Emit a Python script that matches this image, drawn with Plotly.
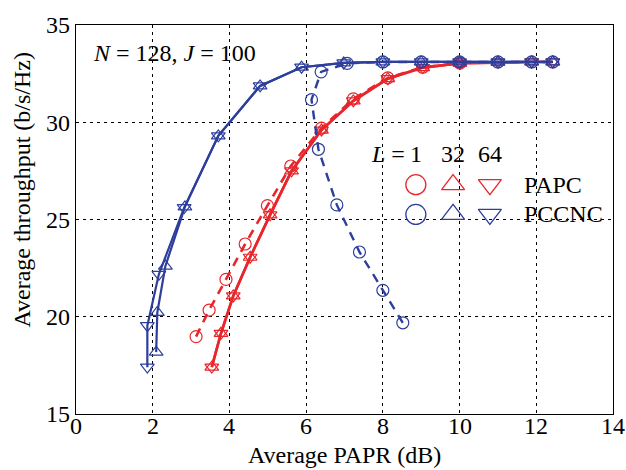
import plotly.graph_objects as go

RED = "#E8262B"
BLUE = "#2D3E9C"

# PCCNC (blue)
pccnc_L64_x = [1.86, 1.86, 2.16, 2.82, 3.71, 4.80, 5.88, 6.98, 8.0, 9.0, 10.0, 11.0, 11.88, 12.43]
pccnc_L64_y = [17.41, 19.54, 22.18, 25.61, 29.30, 31.87, 32.83, 33.05, 33.10, 33.10, 33.10, 33.10, 33.10, 33.10]
pccnc_L32_x = [2.09, 2.12, 2.33, 2.84, 3.71, 4.80, 5.88, 6.98, 8.0, 9.0, 10.0, 11.0, 11.88, 12.43]
pccnc_L32_y = [18.18, 20.22, 22.60, 25.65, 29.30, 31.87, 32.83, 33.05, 33.10, 33.10, 33.10, 33.10, 33.10, 33.10]
pccnc_L1_x = [8.52, 8.00, 7.39, 6.80, 6.32, 6.14, 6.39, 7.07, 8.0, 9.0, 10.0, 11.0, 11.88, 12.43]
pccnc_L1_y = [19.69, 21.36, 23.33, 25.75, 28.61, 31.16, 32.59, 33.03, 33.10, 33.10, 33.10, 33.10, 33.10, 33.10]

# PAPC (red)
papc_L64_x = [3.54, 3.78, 4.10, 4.54, 5.06, 5.62, 6.40, 7.23, 8.13, 9.04, 10.01, 11.0, 11.88, 12.43]
papc_L64_y = [17.41, 19.15, 21.07, 23.06, 25.24, 27.50, 29.60, 31.10, 32.24, 32.81, 33.03, 33.08, 33.10, 33.10]
papc_L32_x = [3.54, 3.78, 4.10, 4.54, 5.06, 5.62, 6.40, 7.23, 8.13, 9.04, 10.01, 11.0, 11.88, 12.43]
papc_L32_y = [17.41, 19.15, 21.07, 23.06, 25.24, 27.50, 29.60, 31.10, 32.24, 32.81, 33.03, 33.08, 33.10, 33.10]
papc_L1_x = [3.13, 3.47, 3.91, 4.41, 4.99, 5.60, 6.40, 7.23, 8.13, 9.04, 10.01]
papc_L1_y = [18.98, 20.34, 21.92, 23.74, 25.71, 27.75, 29.70, 31.20, 32.28, 32.83, 33.04]

x_ticks = [0, 2, 4, 6, 8, 10, 12, 14]
y_ticks = [15, 20, 25, 30, 35]

legend_L_labels = ["1", "32", "64"]
legend_schemes = ["PAPC", "PCCNC"]

FONT = "Liberation Serif"
FS = 24
DASH = "9px,7px"

fig = go.Figure()

def add(x, y, color, symbol, dash, width, size=12):
    fig.add_trace(go.Scatter(
        x=x, y=y, mode="lines+markers",
        line=dict(color=color, width=width, dash=dash),
        marker=dict(symbol=symbol, size=size, color=color,
                    line=dict(color=color, width=1.2)),
        showlegend=False, cliponaxis=False))

add(papc_L1_x, papc_L1_y, RED, "circle-open", DASH, 2.6)
add(papc_L32_x, papc_L32_y, RED, "triangle-up-open", "solid", 2.6)
add(papc_L64_x, papc_L64_y, RED, "triangle-down-open", "solid", 2.6)
add(pccnc_L1_x, pccnc_L1_y, BLUE, "circle-open", DASH, 2.4)
add(pccnc_L32_x, pccnc_L32_y, BLUE, "triangle-up-open", "solid", 2.2)
add(pccnc_L64_x, pccnc_L64_y, BLUE, "triangle-down-open", "solid", 2.2)

# custom legend (markers in data coordinates)
leg_x = [8.86, 9.83, 10.79]
leg_y = [26.79, 25.26]
syms = ["circle-open", "triangle-up-open", "triangle-down-open"]
for yy, col in zip(leg_y, [RED, BLUE]):
    fig.add_trace(go.Scatter(
        x=leg_x, y=[yy] * 3, mode="markers",
        marker=dict(symbol=syms, size=20, color=col, line=dict(color=col, width=1.3)),
        showlegend=False, hoverinfo="skip"))

ann_font = dict(family=FONT, size=FS, color="black")
fig.add_annotation(x=8.62, y=28.37, xref="x", yref="y", text="<i>L</i> =",
                   showarrow=False, xanchor="right", yanchor="middle", font=ann_font)
for xx, lab in zip(leg_x, legend_L_labels):
    fig.add_annotation(x=xx, y=28.37, xref="x", yref="y", text=lab,
                       showarrow=False, xanchor="center", yanchor="middle", font=ann_font)
for yy, lab in zip(leg_y, legend_schemes):
    fig.add_annotation(x=11.62, y=yy, xref="x", yref="y", text=lab,
                       showarrow=False, xanchor="left", yanchor="middle", font=ann_font)

fig.add_annotation(x=0.028, y=0.929, xref="paper", yref="paper",
                   text="<i>N</i> = 128, <i>J</i> = 100", showarrow=False,
                   xanchor="left", yanchor="middle", font=ann_font)

# x tick labels placed close to the axis (as in the reference)
for xv in x_ticks:
    fig.add_annotation(x=xv, y=0.004, xref="x", yref="paper", text=str(xv),
                       showarrow=False, xanchor="center", yanchor="top",
                       font=ann_font, borderpad=0)

# axis titles as annotations for precise placement
fig.add_annotation(x=0.5, y=-0.105, xref="paper", yref="paper",
                   text="Average PAPR (dB)", showarrow=False,
                   xanchor="center", yanchor="middle", font=ann_font)
fig.add_annotation(x=-0.1006, y=0.577, xref="paper", yref="paper",
                   text="Average throughput (b/s/Hz)", showarrow=False, textangle=-90,
                   xanchor="center", yanchor="middle", font=ann_font)

axis_common = dict(
    showgrid=True, gridcolor="black", gridwidth=1, griddash="3px,4px",
    showline=True, linecolor="black", linewidth=1.2, mirror=True,
    ticks="", zeroline=False,
    tickfont=dict(family=FONT, size=FS, color="black"),
)
fig.update_xaxes(range=[0, 14], tickvals=x_ticks, showticklabels=False, **axis_common)
fig.update_yaxes(range=[15, 35], tickvals=y_ticks, ticktext=[str(v) for v in y_ticks],
                 **axis_common)

fig.update_layout(
    width=626, height=470,
    margin=dict(l=76, r=13, t=22, b=56),
    paper_bgcolor="white", plot_bgcolor="white",
    showlegend=False,
)

fig.write_html("out.html")
